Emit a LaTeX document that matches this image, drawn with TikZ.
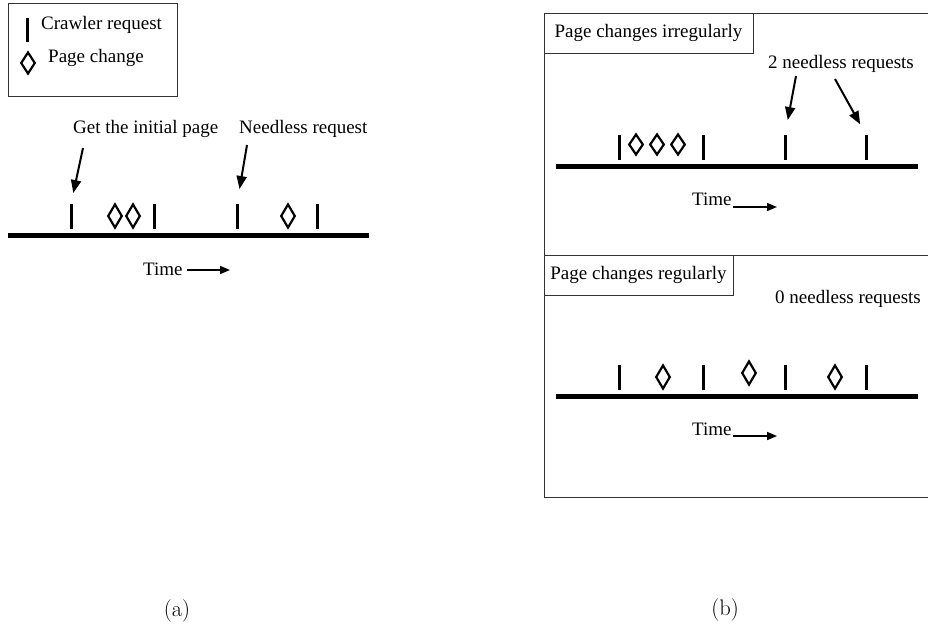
\documentclass[tikz,border=0pt]{standalone}
\usepackage{fontspec}
\newfontfamily\tnr{Liberation Serif}
\usetikzlibrary{shapes.geometric,arrows.meta}
\begin{document}
\begin{tikzpicture}[x=1pt,y=-1pt,
  lbl/.style={font=\tnr\fontsize{19}{22}\selectfont, inner sep=0pt, anchor=base west},
  captxt/.style={font=\fontsize{22.5}{26}\selectfont, inner sep=0pt},
  req/.style={rectangle, fill=black, draw=none, inner sep=0pt, minimum width=3pt, minimum height=25pt},
  chg/.style={diamond, draw, line width=2.2pt, inner sep=0pt, minimum width=14.5pt, minimum height=#1},
  chg/.default=24pt,
  tline/.style={line width=5pt},
  ptr/.style={-{Triangle[length=13pt,width=10pt]}, line width=2pt},
  tarr/.style={-{Triangle[length=10pt,width=8pt]}, line width=1.6pt},
  frame/.style={draw=black!80, line width=1pt},
  titlebox/.style={frame, font=\tnr\fontsize{19}{22}\selectfont, inner sep=0pt, minimum width=209pt, minimum height=40pt}
]
\useasboundingbox (0,0) rectangle (928,625);

% ---------- (a) legend ----------
\draw[frame] (8,3) rectangle (177,96);
\node[req, minimum height=24pt] (lgBar) at (27,30) {};
\node[lbl] (lgReq) at (41,29) {Crawler request};
\node[chg=22pt] (lgDia) at (28,63) {};
\node[lbl] (lgChg) at (48,62) {Page change};

% ---------- (a) timeline ----------
\node[lbl] (getInit) at (73,133) {Get the initial page};
\node[lbl] (needA) at (239,133) {Needless request};
\node[req] (rA1) at (71,216.5) {};
\node[req] (rA2) at (154,216.5) {};
\node[req] (rA3) at (237,216.5) {};
\node[req] (rA4) at (317,216.5) {};
\node[chg] (cA1) at (115,216) {};
\node[chg] (cA2) at (133,216) {};
\node[chg] (cA3) at (288,216) {};
\coordinate (ta0) at (8,235);
\coordinate (ta1) at (369,235);
\draw[tline] (ta0) -- (ta1);
\coordinate (pA1) at (83,148);
\coordinate (pA2) at (247,145);
\draw[ptr, shorten >=11pt] (pA1) -- (rA1.north);
\draw[ptr, shorten >=15pt] (pA2) -- (rA3.north);
\node[lbl] (timeA) at (143,275) {Time};
\coordinate (taS) at (187,270);
\coordinate (taE) at (230,270);
\draw[tarr] (taS) -- (taE);

% ---------- (b) frame ----------
\draw[frame] (932,13) -- (544,13) -- (544,497) -- (932,497);
\draw[frame] (544,255) -- (932,255);

% ---------- (b) upper ----------
\node[titlebox] (irr) at (648.5,33) {Page changes irregularly};
\node[lbl] (needB) at (768,68) {2 needless requests};
\node[req] (rB1) at (619,147.5) {};
\node[req] (rB2) at (703,147.5) {};
\node[req] (rB3) at (785,147.5) {};
\node[req] (rB4) at (866,147.5) {};
\node[chg=21pt] (cB1) at (636,144.5) {};
\node[chg=21pt] (cB2) at (657,144.5) {};
\node[chg=21pt] (cB3) at (678,144.5) {};
\coordinate (tb0) at (556,166);
\coordinate (tb1) at (918,166);
\draw[tline] (tb0) -- (tb1);
\coordinate (pB1) at (796,76);
\coordinate (pB2) at (835,79);
\draw[ptr, shorten >=15pt] (pB1) -- (rB3.north);
\draw[ptr, shorten >=12pt] (pB2) -- (rB4.north);
\node[lbl] (timeB1) at (692,205) {Time};
\coordinate (tbS) at (733,207);
\coordinate (tbE) at (777,207);
\draw[tarr] (tbS) -- (tbE);

% ---------- (b) lower ----------
\node[titlebox, minimum width=189pt] (reg) at (638.5,275) {Page changes regularly};
\node[lbl] (zeroB) at (775,303) {0 needless requests};
\node[req] (rC1) at (619,377) {};
\node[req] (rC2) at (703,377) {};
\node[req] (rC3) at (785,377) {};
\node[req] (rC4) at (866,377) {};
\node[chg] (cC1) at (663,377) {};
\node[chg] (cC2) at (749,373) {};
\node[chg] (cC3) at (835,377) {};
\coordinate (tc0) at (556,396);
\coordinate (tc1) at (918,396);
\draw[tline] (tc0) -- (tc1);
\node[lbl] (timeB2) at (692,435) {Time};
\coordinate (tcS) at (733,436);
\coordinate (tcE) at (777,436);
\draw[tarr] (tcS) -- (tcE);

% ---------- captions ----------
\node[captxt] (capA) at (177,611) {(a)};
\node[captxt] (capB) at (725,610) {(b)};
\end{tikzpicture}
\end{document}
